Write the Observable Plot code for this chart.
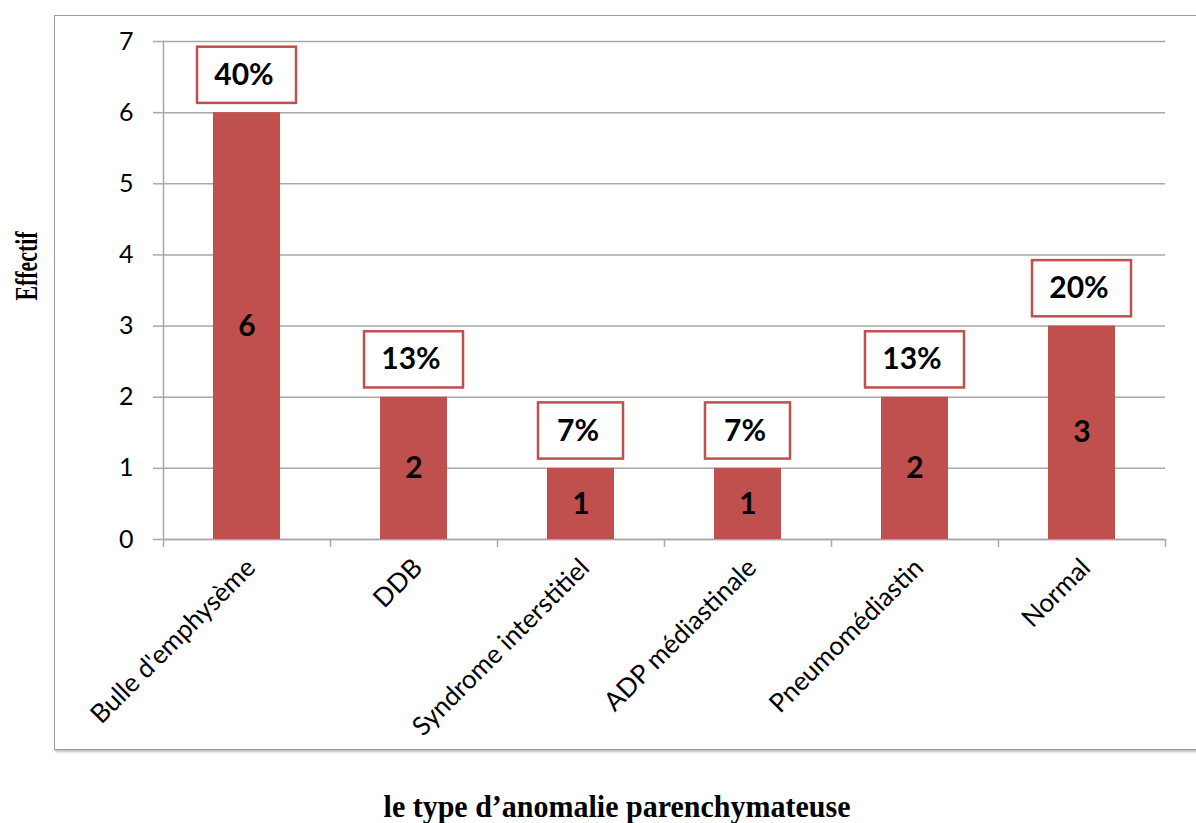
<!DOCTYPE html>
<html>
<head>
<meta charset="utf-8">
<script src="https://cdn.jsdelivr.net/npm/d3@7"></script>
<script src="https://cdn.jsdelivr.net/npm/@observablehq/plot@0.6"></script>
<style>
  html, body { margin: 0; padding: 0; background: #fff; }
  #wrap { position: relative; width: 1196px; height: 823px; overflow: hidden; }
  #frame {
    position: absolute; left: 54px; top: 15px; width: 1160px; height: 733px;
    border: 1.5px solid #9c9c9c; box-shadow: 1px 2px 2px rgba(0,0,0,0.25);
    background: #fff;
  }
  #chart { position: absolute; left: 0; top: 0; }
  #chart svg { background: transparent; overflow: visible; }
  .ytitle {
    position: absolute; left: 26px; top: 266px;
    transform: translate(-50%, -50%) rotate(-90deg) scaleX(0.68);
    font: bold 32px "Liberation Serif", serif; white-space: nowrap; color: #000;
  }
  .xtitle {
    position: absolute; left: 617px; top: 806px;
    transform: translate(-50%, -50%) scaleY(1.08);
    font: bold 30px "Liberation Serif", serif; white-space: nowrap; color: #000;
  }
</style>
</head>
<body>
<div id="wrap">
  <div id="frame"></div>
  <div id="chart"></div>
  <div class="ytitle">Effectif</div>
  <div class="xtitle">le type d’anomalie parenchymateuse</div>
</div>
<script>
// Types of parenchymal anomaly, their counts and share of cases
const categories = ["Bulle d'emphysème", "DDB", "Syndrome interstitiel", "ADP médiastinale", "Pneumomédiastin", "Normal"];
const counts = [6, 2, 1, 1, 2, 3];
const percents = [40, 13, 7, 7, 13, 20];
const yTicks = [0, 1, 2, 3, 4, 5, 6, 7];

const data = categories.map((category, i) => ({category, count: counts[i], pct: percents[i]}));

const W = 1196, H = 770;
const mL = 163, mR = 31, mT = 41, mB = 231;
const step = (W - mL - mR) / categories.length;

const barColor = "#c0504d";
const gridColor = "#a8a8a8";
const font = "Lato, 'Open Sans', sans-serif";

// callout boxes are wider than the bars; two-digit labels get a wider box
const wide = data.filter(d => String(d.pct).length > 1);
const narrow = data.filter(d => String(d.pct).length === 1);
const boxStyle = {x: "category", y1: d => d.count + 0.13, y2: d => d.count + 0.92, fill: "#fff", stroke: barColor, strokeWidth: 2.5};

const chart = Plot.plot({
  width: W, height: H,
  marginLeft: mL, marginRight: mR, marginTop: mT, marginBottom: mB,
  style: {fontFamily: font, background: "transparent", color: "#000"},
  x: {domain: categories, paddingInner: 0.6, paddingOuter: 0.3, label: null},
  y: {domain: [0, 7], label: null},
  marks: [
    Plot.gridY(yTicks, {stroke: gridColor, strokeOpacity: 1, strokeWidth: 1.5}),
    Plot.axisY(yTicks, {tickSize: 10, tickPadding: 20, fontSize: 25, tickFormat: d => String(d), stroke: gridColor, strokeWidth: 1.5, fill: "#000", label: null}),
    Plot.frame({anchor: "left", stroke: gridColor, strokeWidth: 1.5}),
    Plot.ruleY([0], {stroke: gridColor, strokeWidth: 1.5}),
    // category boundary ticks under the axis
    Plot.ruleX(categories, {x: d => d, y1: 0, y2: 0, insetBottom: -8, dx: -step / 2, stroke: gridColor, strokeWidth: 1.5}),
    Plot.ruleX(categories.slice(-1), {x: d => d, y1: 0, y2: 0, insetBottom: -8, dx: step / 2, stroke: gridColor, strokeWidth: 1.5}),
    Plot.barY(data, {x: "category", y: "count", fill: barColor}),
    // count inside each bar
    Plot.text(data, {x: "category", y: d => d.count / 2, text: d => String(d.count), fontSize: 30, fontWeight: "bold", fill: "#000"}),
    // percentage callouts above the bars
    Plot.barY(wide, {...boxStyle, insetLeft: -16, insetRight: -16}),
    Plot.barY(narrow, {...boxStyle, insetLeft: -9, insetRight: -9}),
    Plot.text(data, {x: "category", y: d => d.count + 0.525, dx: -3, text: d => d.pct + "%", fontSize: 30, fontWeight: "bold", fill: "#000"}),
    Plot.axisX({tickRotate: -45, tickSize: 0, tickPadding: 24, dx: 4, fontSize: 26, fill: "#000", label: null})
  ]
});

document.getElementById("chart").append(chart);
</script>
</body>
</html>
